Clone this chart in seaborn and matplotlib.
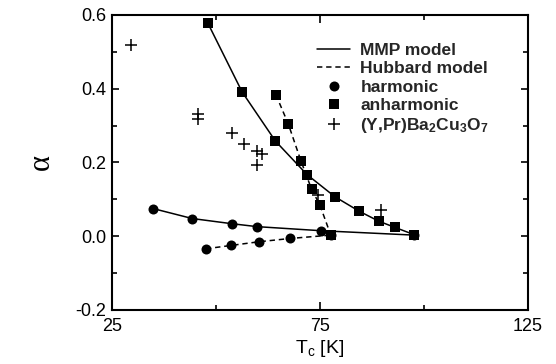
import numpy as np
import pandas as pd
import matplotlib
matplotlib.use("Agg")
import matplotlib.pyplot as plt
import seaborn as sns
from matplotlib.lines import Line2D
from matplotlib.ticker import MultipleLocator, FixedLocator

# MMP model (solid lines)
mmp_anh_tc = [48.0, 56.3, 64.3, 71.9, 78.6, 84.4, 89.1, 93.0, 97.7]
mmp_anh_a = [0.579, 0.391, 0.258, 0.167, 0.107, 0.068, 0.041, 0.024, 0.004]
mmp_har_tc = [34.9, 44.3, 53.8, 59.9, 75.2, 97.7]
mmp_har_a = [0.075, 0.048, 0.034, 0.026, 0.015, 0.003]

# Hubbard model (dashed lines)
hub_anh_tc = [64.4, 67.4, 70.4, 73.0, 75.0, 77.6]
hub_anh_a = [0.384, 0.304, 0.205, 0.127, 0.084, 0.003]
hub_har_tc = [47.6, 53.6, 60.3, 67.9, 77.6]
hub_har_a = [-0.034, -0.025, -0.015, -0.006, 0.003]

# (Y,Pr)Ba2Cu3O7 experiment
exp_tc = [29.6, 45.7, 45.7, 53.8, 56.8, 59.8, 61.0, 59.9, 74.6, 89.7]
exp_a = [0.519, 0.332, 0.317, 0.280, 0.249, 0.231, 0.222, 0.192, 0.112, 0.070]

x_major = [25, 75, 125]
x_minor = [50, 100]

sns.set_style("ticks")
plt.rcParams['font.family'] = ['Liberation Sans', 'DejaVu Sans']
plt.rcParams['mathtext.fontset'] = 'custom'
plt.rcParams['mathtext.rm'] = 'Liberation Sans'
plt.rcParams['mathtext.bf'] = 'Liberation Sans:bold'
plt.rcParams['mathtext.it'] = 'Liberation Sans'

fig = plt.figure(figsize=(5.56, 3.64), dpi=100)
ax = fig.add_axes([0.2014, 0.1484, 0.7482, 0.8104])

lw = 1.1
dash = (0, (3.5, 2.5))
ms_sq = 6.5
ms_ci = 7.2

sns.lineplot(x=mmp_anh_tc, y=mmp_anh_a, sort=False, color='k', lw=lw,
             marker='s', markersize=ms_sq, markeredgewidth=0, ax=ax)
sns.lineplot(x=mmp_har_tc, y=mmp_har_a, sort=False, color='k', lw=lw,
             marker='o', markersize=ms_ci, markeredgewidth=0, ax=ax)
sns.lineplot(x=hub_anh_tc, y=hub_anh_a, sort=False, color='k', lw=lw,
             linestyle=dash, marker='s', markersize=ms_sq, markeredgewidth=0, ax=ax)
sns.lineplot(x=hub_har_tc, y=hub_har_a, sort=False, color='k', lw=lw,
             linestyle=dash, marker='o', markersize=ms_ci, markeredgewidth=0, ax=ax)
sns.scatterplot(x=exp_tc, y=exp_a, marker='+', s=75, color='k', linewidth=1.1, ax=ax)

ax.set_xlim(25, 125)
ax.set_ylim(-0.2, 0.6)
ax.xaxis.set_major_locator(FixedLocator(x_major))
ax.xaxis.set_minor_locator(FixedLocator(x_minor))
ax.yaxis.set_major_locator(MultipleLocator(0.2))
ax.yaxis.set_minor_locator(MultipleLocator(0.1))
ax.set_yticks(ax.get_yticks())
ax.set_yticklabels([f"{v:.1f}" for v in ax.get_yticks()])
ax.set_ylim(-0.2, 0.6)
ax.tick_params(which='both', direction='in', top=True, right=True, labelsize=13,
               width=1.2, color='k', labelcolor='k')
ax.tick_params(which='major', length=5, pad=4)
ax.tick_params(axis='x', which='major', length=6, pad=6)
ax.tick_params(which='minor', length=3.5)
for s in ax.spines.values():
    s.set_linewidth(1.5)
    s.set_color('k')

ax.set_xlabel(r'T$_{\rm c}$ [K]', fontsize=14, labelpad=2, color='k')
ax.set_ylabel('α', fontsize=22, family=['Liberation Serif', 'DejaVu Serif'],
              labelpad=14, color='k')

handles = [
    Line2D([], [], color='k', lw=lw),
    Line2D([], [], color='k', lw=lw, linestyle=dash),
    Line2D([], [], color='k', lw=0, marker='o', markersize=ms_ci, markeredgewidth=0),
    Line2D([], [], color='k', lw=0, marker='s', markersize=ms_sq, markeredgewidth=0),
    Line2D([], [], color='k', lw=0, marker='+', markersize=9, markeredgewidth=1.1),
]
labels = ['MMP model', 'Hubbard model', 'harmonic', 'anharmonic',
          r'(Y,Pr)Ba$_{\bf 2}$Cu$_{\bf 3}$O$_{\bf 7}$']
ax.legend(handles, labels, loc='upper left', bbox_to_anchor=(0.493, 0.905),
          frameon=False, prop={'weight': 'bold', 'size': 12.5},
          handlelength=1.9, handletextpad=0.6, labelspacing=0.18,
          borderaxespad=0, borderpad=0)

fig.savefig('out.png', dpi=100)
